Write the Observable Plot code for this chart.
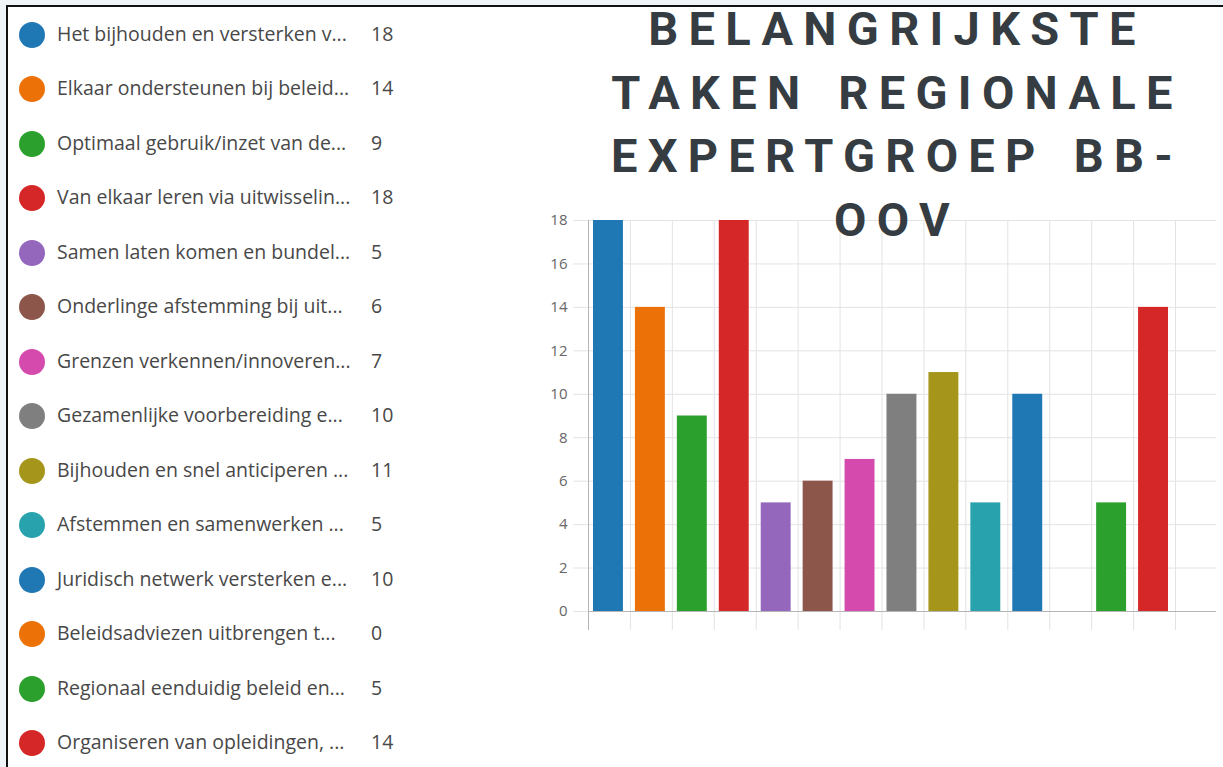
<!DOCTYPE html>
<html>
<head>
<meta charset="utf-8">
<script src="https://cdn.jsdelivr.net/npm/d3@7"></script>
<script src="https://cdn.jsdelivr.net/npm/@observablehq/plot@0.6"></script>
<style>
  html, body { margin: 0; padding: 0; }
  body { width: 1223px; height: 767px; background: #eef4f8; position: relative; overflow: hidden; }
  #panel { position: absolute; left: 6px; top: 5px; right: 0; bottom: 0; background: #fff;
           border-top: 2px solid #111; border-left: 2px solid #111; }
  .row { position: absolute; left: 0; height: 30px; font-family: "Open Sans", "Noto Sans", sans-serif;
         font-size: 19.5px; color: #484848; }
  .dot { position: absolute; width: 26px; height: 26px; border-radius: 50%; }
  .lab { position: absolute; white-space: nowrap; line-height: 26px; }
  #title { position: absolute; left: 557px; width: 680px; top: -3px; text-align: center;
           font-family: Roboto, "DejaVu Sans", sans-serif; font-weight: 700; font-size: 47px;
           line-height: 63.5px; letter-spacing: 10.3px; word-spacing: 6px; color: #363d42; }
  #chart { position: absolute; left: 520px; top: 200px; }
  #chart svg text { font-size: 15px; }
</style>
</head>
<body>
<div id="panel"></div>
<div id="legend"></div>
<div id="chart"></div>
<div id="title">BELANGRIJKSTE<br>TAKEN REGIONALE<br>EXPERTGROEP BB-<br>OOV</div>
<script>
const labels = [
  "Het bijhouden en versterken v...",
  "Elkaar ondersteunen bij beleid...",
  "Optimaal gebruik/inzet van de...",
  "Van elkaar leren via uitwisselin...",
  "Samen laten komen en bundel...",
  "Onderlinge afstemming bij uit...",
  "Grenzen verkennen/innoveren...",
  "Gezamenlijke voorbereiding e...",
  "Bijhouden en snel anticiperen ...",
  "Afstemmen en samenwerken ...",
  "Juridisch netwerk versterken e...",
  "Beleidsadviezen uitbrengen t...",
  "Regionaal eenduidig beleid en...",
  "Organiseren van opleidingen, ..."
];
const values = [18, 14, 9, 18, 5, 6, 7, 10, 11, 5, 10, 0, 5, 14];
const colors = ["#1f77b4", "#ec7107", "#2ca02c", "#d62728", "#9467bd", "#8c564b", "#d54bad",
                "#7f7f7f", "#a5961b", "#28a3ad", "#1f77b4", "#ec7107", "#2ca02c", "#d62728"];
const yTicks = [0, 2, 4, 6, 8, 10, 12, 14, 16, 18];

const data = labels.map((label, i) => ({label, value: values[i], color: colors[i]}));

// Legend
const legend = document.getElementById("legend");
data.forEach((d, i) => {
  const cy = 35 + i * 54.46;
  const row = document.createElement("div");
  row.className = "row";
  row.style.top = (cy - 13) + "px";
  row.innerHTML = `<div class="dot" style="left:19px;top:0px;background:${d.color}"></div>` +
    `<div class="lab" style="left:57px;top:-1px">${d.label}</div>` +
    `<div class="lab" style="left:371px;top:-1px">${d.value}</div>`;
  legend.appendChild(row);
});

// Chart
const W = 703, H = 440;
const x0 = 68, x1 = 655;
const step = (x1 - x0) / labels.length;
const chart = Plot.plot({
  width: W,
  height: H,
  marginLeft: x0,
  marginRight: 7,
  marginTop: 20,
  marginBottom: 29,
  style: {background: "transparent", fontFamily: "Open Sans, Noto Sans, sans-serif", fontSize: "15px"},
  x: {type: "band", domain: labels, range: [x0, x1], padding: 0, round: false, axis: null},
  y: {domain: [0, 18], ticks: yTicks, axis: null, label: null},
  marks: [
    Plot.gridY(yTicks, {stroke: "#e3e3e3", strokeOpacity: 1, insetLeft: -15}),
    Plot.ruleX(labels, {x: d => d, dx: -step / 2, stroke: "#e3e3e3", insetBottom: -19}),
    Plot.ruleX([labels[labels.length - 1]], {x: d => d, dx: step / 2, stroke: "#e3e3e3", insetBottom: -19}),
    Plot.barY(data, {x: "label", y: "value", fill: "color", insetLeft: 5, insetRight: 7}),
    Plot.axisY(yTicks, {tickSize: 0, tickPadding: 21, fill: "#666", fontSize: 15, label: null, tickFormat: d => d}),
    Plot.ruleY([0], {stroke: "#b5b5b5"}),
    Plot.ruleX([labels[0]], {x: d => d, dx: -step / 2, stroke: "#b5b5b5", insetBottom: -19})
  ]
});
document.getElementById("chart").appendChild(chart);
</script>
</body>
</html>
